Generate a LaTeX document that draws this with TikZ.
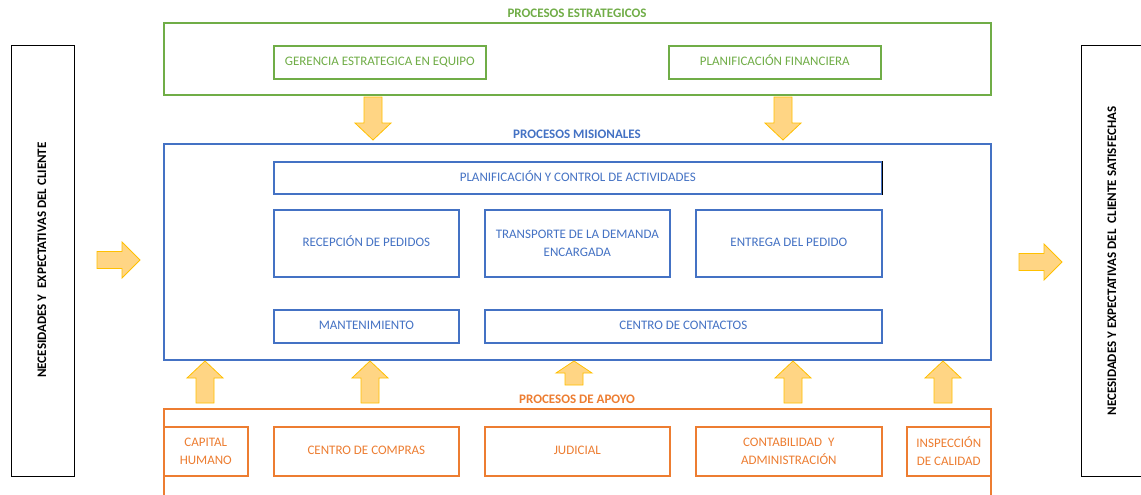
\documentclass[tikz,border=0pt]{standalone}
\usepackage{fontspec}
\setmainfont{Carlito}
\definecolor{gr}{HTML}{70AD47}
\definecolor{bl}{HTML}{4472C4}
\definecolor{orn}{HTML}{ED7D31}
\definecolor{arrf}{HTML}{FFD584}
\definecolor{arrd}{HTML}{FFC000}
\tikzset{
  bigbox/.style={draw=#1, line width=1.6pt, inner sep=0pt, anchor=north west},
  inbox/.style={draw=#1, text=#1, line width=1.6pt, inner sep=0pt, anchor=north west, align=center,
     font=\fontsize{13}{18}\selectfont},
  oneline/.style={text height=9pt, text depth=2.5pt},
  title/.style={text=#1, font=\bfseries\fontsize{13}{14}\selectfont, inner sep=0pt},
  sidebox/.style={draw=black, line width=1.2pt, inner sep=0pt, anchor=north west},
  sidetext/.style={font=\bfseries\fontsize{13}{14}\selectfont, rotate=90, inner sep=0pt},
  blockarrow/.style={draw=arrd, fill=arrf, line width=0.8pt, line join=miter}
}
\newcommand\downarr[3]{% x, tail y, tip y
  \draw[blockarrow] (#1-9,#2) -- (#1+9,#2) -- (#1+9,#3-17) -- (#1+18,#3-17) -- (#1,#3) -- (#1-18,#3-17) -- (#1-9,#3-17) -- cycle;}
\newcommand\uparr[4]{% x, tail y, tip y, head length
  \draw[blockarrow] (#1-9,#2) -- (#1+9,#2) -- (#1+9,#3+#4) -- (#1+18,#3+#4) -- (#1,#3) -- (#1-18,#3+#4) -- (#1-9,#3+#4) -- cycle;}
\newcommand\rightarr[3]{% y, tail x, tip x
  \draw[blockarrow] (#2,#1-8.5) -- (#3-18,#1-8.5) -- (#3-18,#1-18) -- (#3,#1) -- (#3-18,#1+18) -- (#3-18,#1+8.5) -- (#2,#1+8.5) -- cycle;}
\begin{document}
\begin{tikzpicture}[x=1pt,y=-1pt]
\useasboundingbox (0,0) rectangle (1141,495);
\clip (0,0) rectangle (1141,495);
\fill[white] (0,0) rectangle (1141,495);

% side boxes
\node[sidebox, minimum width=63pt, minimum height=431pt] (lbox) at (11,45) {};
\node[sidetext] (ltext) at (42,260) {NECESIDADES Y \ EXPECTATIVAS DEL CLIENTE};
\node[sidebox, minimum width=80pt, minimum height=431pt] (rbox) at (1081,45) {};
\node[sidetext] (rtext) at (1112,261) {NECESIDADES Y EXPECTATIVAS DEL \ CLIENTE SATISFECHAS};

% strategic
\node[title=gr] (tstrat) at (577,13) {PROCESOS ESTRATEGICOS};
\node[bigbox=gr, minimum width=827pt, minimum height=72pt] (strat) at (163,22) {};
\node[inbox=gr, oneline, minimum width=212pt, minimum height=33pt] (gerencia) at (273,45) {GERENCIA ESTRATEGICA EN EQUIPO};
\node[inbox=gr, oneline, minimum width=212pt, minimum height=33pt] (planfin) at (668,45) {PLANIFICACIÓN FINANCIERA};

% missional
\node[title=bl] (tmis) at (577,134) {PROCESOS MISIONALES};
\node[bigbox=bl, minimum width=827pt, minimum height=216pt] (mis) at (163,143) {};
\node[inbox=bl, oneline, minimum width=608pt, minimum height=32pt] (planctl) at (273,161) {PLANIFICACIÓN Y CONTROL DE ACTIVIDADES};
\draw[black, line width=1.6pt] (planctl.north east) -- (planctl.south east);
\node[inbox=bl, oneline, minimum width=185pt, minimum height=67pt] (recep) at (273,209) {RECEPCIÓN DE PEDIDOS};
\node[inbox=bl, minimum width=185pt, minimum height=67pt] (transp) at (484,209) {TRANSPORTE DE LA DEMANDA\\ENCARGADA};
\node[inbox=bl, oneline, minimum width=186pt, minimum height=67pt] (entrega) at (695,209) {ENTREGA DEL PEDIDO};
\node[inbox=bl, oneline, minimum width=185pt, minimum height=33pt] (mant) at (273,309) {MANTENIMIENTO};
\node[inbox=bl, oneline, minimum width=397pt, minimum height=33pt] (contact) at (484,309) {CENTRO DE CONTACTOS};

% support
\node[title=orn] (tapoyo) at (577,399) {PROCESOS DE APOYO};
\node[bigbox=orn, minimum width=827pt, minimum height=100pt] (apoyo) at (163,408) {};
\node[inbox=orn, minimum width=84pt, minimum height=49pt] (capital) at (163,426) {CAPITAL\\HUMANO};
\node[inbox=orn, oneline, minimum width=185pt, minimum height=49pt] (compras) at (273,426) {CENTRO DE COMPRAS};
\node[inbox=orn, oneline, minimum width=185pt, minimum height=49pt] (judicial) at (484,426) {JUDICIAL};
\node[inbox=orn, minimum width=186pt, minimum height=49pt] (conta) at (695,426) {CONTABILIDAD \ Y\\ADMINISTRACIÓN};
\node[inbox=orn, minimum width=84pt, minimum height=49pt] (inspec) at (906,426) {INSPECCIÓN\\DE CALIDAD};

% arrows
\downarr{373}{97}{140}
\downarr{783}{97}{140}
\uparr{205}{403}{361}{17}
\uparr{370}{403}{361}{17}
\uparr{574}{385}{361}{12}
\uparr{793}{403}{361}{17}
\uparr{943}{403}{361}{17}
\rightarr{260}{97}{140}
\rightarr{262}{1019}{1062}
\end{tikzpicture}
\end{document}
